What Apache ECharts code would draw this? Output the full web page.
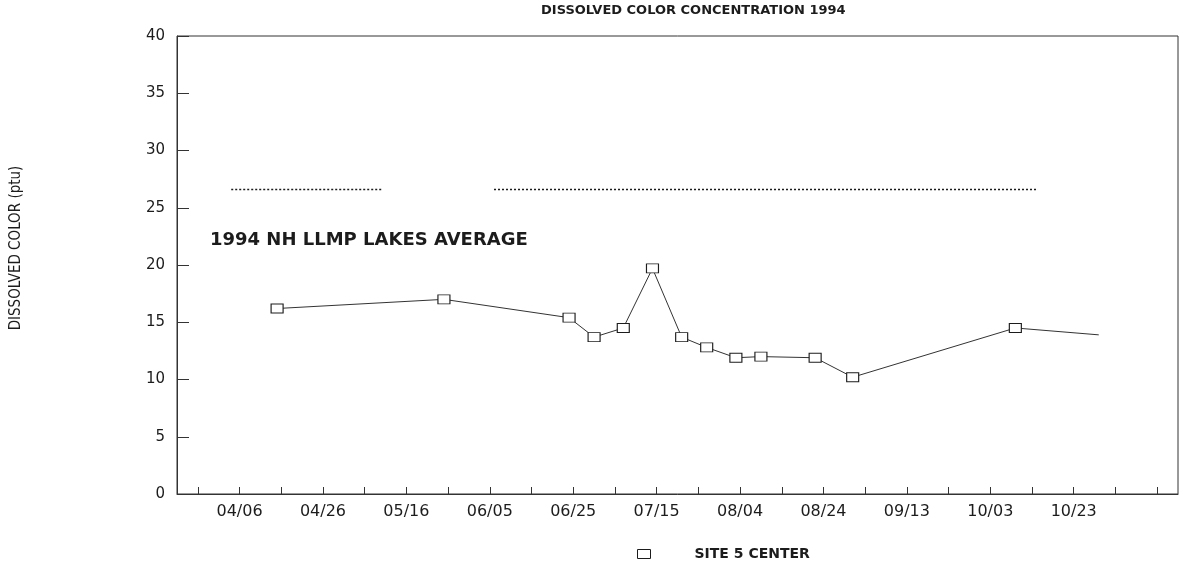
<!DOCTYPE html>
<html><head><meta charset="utf-8">
<script src="https://cdn.jsdelivr.net/npm/echarts@6/dist/echarts.min.js"></script>
<style>html,body{margin:0;padding:0;background:#fff}#c{width:1193px;height:582px}</style>
</head><body><div id="c"></div>
<script>
// ---- chart data ----
const titleText = 'DISSOLVED COLOR CONCENTRATION 1994';
const yAxisTitle = 'DISSOLVED COLOR (ptu)';
const seriesName = 'SITE 5 CENTER';
const averageLabel = '1994 NH LLMP LAKES AVERAGE';
const axisStart = '03/22';
const axisEnd = '11/17';
const tickLabels = ['04/06','04/26','05/16','06/05','06/25','07/15','08/04','08/24','09/13','10/03','10/23'];
const sampleDates = ['04/15','05/25','06/24','06/30','07/07','07/14','07/21','07/27','08/03','08/09','08/22','08/31','10/09','10/29'];
const colorValues = [16.2, 17.0, 15.4, 13.7, 14.5, 19.7, 13.7, 12.8, 11.9, 12.0, 11.9, 10.2, 14.5, 13.9];
const averageDates = ['04/04','05/10','05/11','06/06','10/14'];
const averageValues = [26.6, 26.6, null, 26.6, 26.6];
const yMin = 0, yMax = 40, yStep = 5;

// ---- daily category list for the date axis ----
function parseMD(s){ const [m,d] = s.split('/').map(Number); return Date.UTC(1994, m-1, d); }
function fmtMD(t){ const d = new Date(t); return String(d.getUTCMonth()+1).padStart(2,'0') + '/' + String(d.getUTCDate()).padStart(2,'0'); }
const days = [];
for (let t = parseMD(axisStart); t <= parseMD(axisEnd); t += 86400000) days.push(fmtMD(t));
const firstLabelIdx = days.indexOf(tickLabels[0]);

const lineData = sampleDates.map((d, i) => {
  const item = { value: [d, colorValues[i]] };
  if (i === sampleDates.length - 1) item.symbol = 'none';
  return item;
});
const avgData = averageDates.map((d, i) => [d, averageValues[i] === null ? '-' : averageValues[i]]);

const ink = '#1c1c1c';
const chart = echarts.init(document.getElementById('c'), null, { renderer: 'canvas' });
chart.setOption({
  backgroundColor: '#fff',
  animation: false,
  title: {
    text: titleText, left: 541, top: 4, padding: 0,
    textStyle: { fontFamily: 'DejaVu Sans', fontSize: 13, fontWeight: 'bold', color: ink }
  },
  legend: {
    data: [seriesName], left: 632, top: 542, icon: 'rect', itemWidth: 13, itemHeight: 9,
    itemStyle: { color: '#fff', borderColor: ink, borderWidth: 1 },
    textStyle: { fontFamily: 'DejaVu Sans', fontSize: 14, fontWeight: 'bold', color: ink, padding: [0, 0, 0, 39] }
  },
  grid: { left: 177, right: 15, top: 36, bottom: 88, show: true, borderColor: '#333', borderWidth: 1, backgroundColor: 'transparent' },
  xAxis: {
    type: 'category', data: days, boundaryGap: false,
    axisLine: { lineStyle: { color: '#333', width: 1 } },
    axisTick: { inside: true, length: 7, lineStyle: { color: '#333' },
      interval: (idx) => (idx - firstLabelIdx) % 10 === 0 },
    axisLabel: { interval: (idx, val) => tickLabels.includes(val), margin: 10,
      fontFamily: 'DejaVu Sans', fontSize: 16, color: ink },
    splitLine: { show: false }
  },
  yAxis: {
    type: 'value', min: yMin, max: yMax, interval: yStep,
    name: yAxisTitle, nameLocation: 'middle', nameGap: 153, nameRotate: 90,
    nameTextStyle: { fontFamily: 'Liberation Sans Narrow, DejaVu Sans Condensed', fontSize: 15, color: ink, padding: [0, 0, 0, 34] },
    axisLine: { show: true, lineStyle: { color: '#333', width: 1 } },
    axisTick: { show: true, inside: true, length: 12, lineStyle: { color: '#333' } },
    axisLabel: { margin: 12, fontFamily: 'DejaVu Sans', fontSize: 15, color: ink },
    splitLine: { show: false }
  },
  graphic: [{
    type: 'text', left: 210, top: 231,
    style: { text: averageLabel, font: 'bold 18px "DejaVu Sans"', fill: ink }
  }],
  series: [
    {
      name: seriesName, type: 'line', data: lineData,
      showSymbol: true, showAllSymbol: true,
      symbol: 'rect', symbolSize: [12, 9],
      itemStyle: { color: '#fff', borderColor: ink, borderWidth: 1 },
      lineStyle: { color: '#333', width: 1 }, z: 3
    },
    {
      name: 'average', type: 'line', data: avgData, symbol: 'none', connectNulls: false,
      lineStyle: { color: ink, width: 1.5, type: [2, 2] }
    }
  ]
});
</script></body></html>
